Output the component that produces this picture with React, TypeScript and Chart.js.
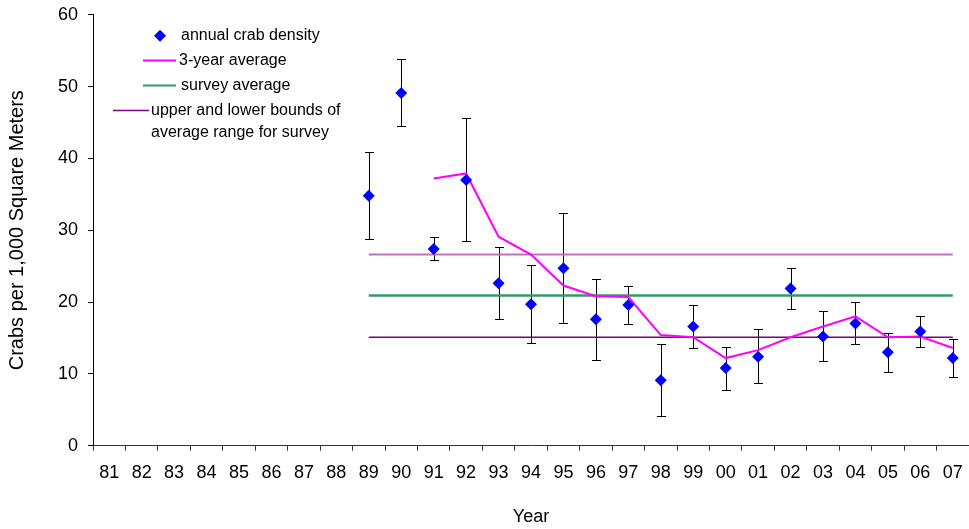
import React, { useEffect, useRef } from 'react';
import { Chart, registerables } from 'chart.js';

Chart.register(...registerables);

// ---- data ----
const years = ['81', '82', '83', '84', '85', '86', '87', '88', '89', '90', '91', '92', '93', '94',
  '95', '96', '97', '98', '99', '00', '01', '02', '03', '04', '05', '06', '07'];

const density = [null, null, null, null, null, null, null, null,
  34.8, 49.1, 27.4, 37.0, 22.6, 19.7, 24.7, 17.6, 19.6, 9.1, 16.6, 10.8, 12.4, 21.9, 15.2, 17.0, 13.0, 15.9, 12.2];

const errHigh = [null, null, null, null, null, null, null, null,
  40.9, 53.8, 29.1, 45.6, 27.7, 25.2, 32.4, 23.2, 22.2, 14.1, 19.6, 13.8, 16.3, 24.8, 18.7, 20.0, 15.7, 18.0, 14.8];

const errLow = [null, null, null, null, null, null, null, null,
  28.8, 44.5, 25.8, 28.5, 17.6, 14.3, 17.1, 12.0, 16.9, 4.2, 13.6, 7.8, 8.7, 19.0, 11.8, 14.1, 10.2, 13.8, 9.5];

const threeYearAvg = [null, null, null, null, null, null, null, null, null, null,
  37.2, 37.9, 29.1, 26.6, 22.3, 20.8, 20.7, 15.4, 15.1, 12.2, 13.3, 15.1, 16.6, 18.0, 15.1, 15.2, 13.6];

const surveyAvg = [null, null, null, null, null, null, null, null,
  20.9, 20.9, 20.9, 20.9, 20.9, 20.9, 20.9, 20.9, 20.9, 20.9, 20.9, 20.9, 20.9, 20.9, 20.9, 20.9, 20.9, 20.9, 20.9];

const upperBound = [null, null, null, null, null, null, null, null,
  26.6, 26.6, 26.6, 26.6, 26.6, 26.6, 26.6, 26.6, 26.6, 26.6, 26.6, 26.6, 26.6, 26.6, 26.6, 26.6, 26.6, 26.6, 26.6];

const lowerBound = [null, null, null, null, null, null, null, null,
  15.1, 15.1, 15.1, 15.1, 15.1, 15.1, 15.1, 15.1, 15.1, 15.1, 15.1, 15.1, 15.1, 15.1, 15.1, 15.1, 15.1, 15.1, 15.1];

const legendLabels = ['annual crab density', '3-year average', 'survey average',
  'upper and lower bounds of', 'average range for survey'];

const yTitle = 'Crabs per 1,000 Square Meters';
const xTitle = 'Year';

const FONT = "'Liberation Sans', Arial, Helvetica, sans-serif";

export default function App() {
  const ref = useRef<HTMLCanvasElement>(null);

  useEffect(() => {
    if (!ref.current) return;

    const errorBars = {
      id: 'errorBars',
      beforeDatasetsDraw(chart: any) {
        const { ctx, scales } = chart;
        const x = scales.x, y = scales.y;
        ctx.save();
        ctx.strokeStyle = '#000';
        ctx.lineWidth = 1;
        density.forEach((v, i) => {
          if (v == null || errHigh[i] == null || errLow[i] == null) return;
          const px = Math.round(x.getPixelForValue(i)) + 0.5;
          const yh = Math.round(y.getPixelForValue(errHigh[i] as number)) + 0.5;
          const yl = Math.round(y.getPixelForValue(errLow[i] as number)) + 0.5;
          ctx.beginPath();
          ctx.moveTo(px, yh); ctx.lineTo(px, yl);
          ctx.moveTo(px - 4.5, yh); ctx.lineTo(px + 4.5, yh);
          ctx.moveTo(px - 4.5, yl); ctx.lineTo(px + 4.5, yl);
          ctx.stroke();
        });
        ctx.restore();
      },
    };

    const customLegend = {
      id: 'customLegend',
      afterDraw(chart: any) {
        const { ctx } = chart;
        const ds = chart.data.datasets;
        ctx.save();
        ctx.font = `16px ${FONT}`;
        ctx.fillStyle = '#000';
        ctx.textBaseline = 'middle';
        ctx.textAlign = 'left';

        // diamond
        const dx = 160, dy = 35.7, r = 6;
        ctx.beginPath();
        ctx.moveTo(dx, dy - r); ctx.lineTo(dx + r, dy); ctx.lineTo(dx, dy + r); ctx.lineTo(dx - r, dy);
        ctx.closePath();
        ctx.fillStyle = ds[0].backgroundColor;
        ctx.fill();
        ctx.fillStyle = '#000';
        ctx.fillText(legendLabels[0], 181, dy);

        const line = (x1: number, x2: number, yy: number, color: string, w: number) => {
          ctx.beginPath();
          ctx.strokeStyle = color;
          ctx.lineWidth = w;
          ctx.moveTo(x1, yy); ctx.lineTo(x2, yy);
          ctx.stroke();
        };
        line(143, 176, 60.5, ds[1].borderColor, 2);
        ctx.fillText(legendLabels[1], 179, 60.5);
        line(143, 176, 85.5, ds[2].borderColor, 2);
        ctx.fillText(legendLabels[2], 181, 85.5);
        line(113, 149, 110.5, ds[4].borderColor, 1.5);
        ctx.fillText(legendLabels[3], 151, 110.5);
        ctx.fillText(legendLabels[4], 151, 132.5);
        ctx.restore();
      },
    };

    const chart = new Chart(ref.current, {
      type: 'line',
      data: {
        labels: years,
        datasets: [
          {
            label: 'annual crab density',
            data: density,
            showLine: false,
            pointStyle: 'rectRot',
            pointRadius: 6,
            pointBackgroundColor: '#0000FF',
            pointBorderColor: '#0000FF',
            pointBorderWidth: 0,
            backgroundColor: '#0000FF',
            borderColor: '#0000FF',
          },
          {
            label: '3-year average',
            data: threeYearAvg,
            borderColor: '#FF00FF',
            borderWidth: 2,
            pointRadius: 0,
            tension: 0,
            spanGaps: false,
          },
          {
            label: 'survey average',
            data: surveyAvg,
            borderColor: '#339966',
            borderWidth: 2.5,
            pointRadius: 0,
          },
          {
            label: 'upper bound',
            data: upperBound,
            borderColor: '#C070C0',
            borderWidth: 2,
            pointRadius: 0,
          },
          {
            label: 'upper and lower bounds of average range for survey',
            data: lowerBound,
            borderColor: '#800080',
            borderWidth: 1.5,
            pointRadius: 0,
          },
        ],
      },
      options: {
        animation: false,
        responsive: false,
        devicePixelRatio: 1,
        layout: { padding: { top: 14.7, right: 0, bottom: 0, left: 0 } },
        plugins: {
          legend: { display: false },
          tooltip: { enabled: false },
        },
        scales: {
          x: {
            type: 'category',
            offset: true,
            grid: {
              offset: true,
              drawOnChartArea: false,
              drawTicks: true,
              tickLength: 5,
              color: '#333',
            },
            border: { color: '#333', width: 1 },
            ticks: {
              color: '#000',
              font: { family: FONT, size: 18 },
              padding: 12,
              maxRotation: 0,
              autoSkip: false,
            },
            title: {
              display: true,
              text: xTitle,
              color: '#000',
              font: { family: FONT, size: 18 },
              padding: { top: 0, bottom: 1 },
            },
            afterFit(scale: any) { scale.height = 83.3; },
          },
          y: {
            min: 0,
            max: 60,
            grid: {
              drawOnChartArea: false,
              drawTicks: true,
              tickLength: 5,
              color: '#000',
            },
            border: { color: '#000', width: 1 },
            ticks: {
              stepSize: 10,
              color: '#000',
              font: { family: FONT, size: 18 },
              padding: 10,
            },
            title: {
              display: true,
              text: yTitle,
              color: '#000',
              font: { family: FONT, size: 20 },
              padding: { top: 5.5, bottom: 0 },
            },
            afterFit(scale: any) {
              scale.width = 93;
              scale.paddingTop = 0;
              scale.paddingBottom = 0;
            },
          },
        },
      },
      plugins: [errorBars, customLegend],
    } as any);

    return () => chart.destroy();
  }, []);

  return (
    <div style={{ position: 'absolute', left: 0, top: 0, width: 969, height: 529, overflow: 'hidden', background: '#fff' }}>
      <canvas ref={ref} width={975} height={529} style={{ display: 'block', width: 975, height: 529 }} />
    </div>
  );
}
